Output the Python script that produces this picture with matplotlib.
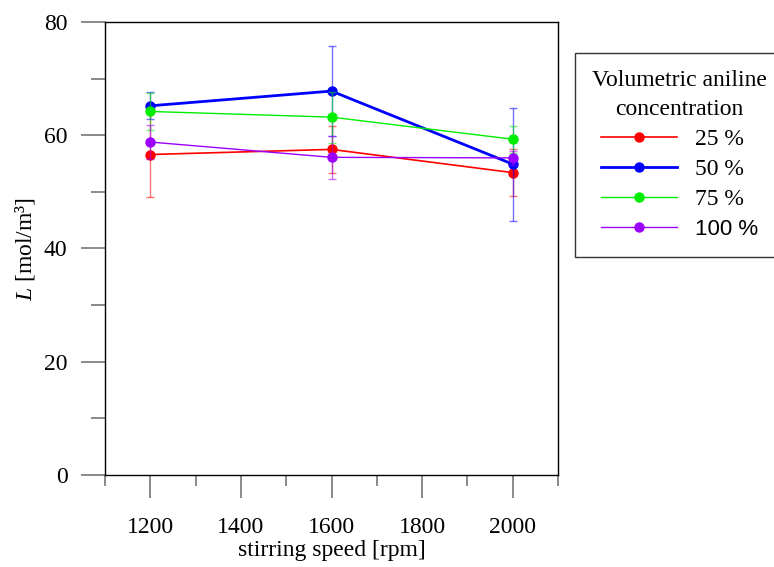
import matplotlib
matplotlib.use("Agg")
import matplotlib.pyplot as plt
from matplotlib.ticker import MultipleLocator

speeds = [1200, 1600, 2000]
labels = ["25 %", "50 %", "75 %", "100 %"]
L_25 = [56.6, 57.5, 53.4]
err_25 = [7.5, 4.1, 4.2]
L_50 = [65.2, 67.8, 54.9]
err_50 = [2.4, 8.0, 10.0]
L_75 = [64.2, 63.2, 59.3]
err_75 = [3.3, 4.5, 2.4]
L_100 = [58.8, 56.1, 56.0]
err_100 = [3.0, 3.8, 1.2]

colors = ["#ff0000", "#0000ff", "#00ee00", "#9b00ff"]
widths = [1.2, 2.0, 1.0, 1.0]

plt.rcParams['font.family'] = ['Liberation Serif', 'DejaVu Serif']
plt.rcParams['mathtext.fontset'] = 'custom'
plt.rcParams['mathtext.it'] = 'Liberation Serif:italic'
plt.rcParams['mathtext.rm'] = 'Liberation Serif'

FS = 17

fig = plt.figure(figsize=(7.74, 5.67), dpi=100)
ax = fig.add_axes([105/774, 1-475/567, (558-105)/774, (475-22)/567])

series = [(L_25, err_25), (L_50, err_50), (L_75, err_75), (L_100, err_100)]
handles = []
for (vals, errs), c, lw, lab in zip(series, colors, widths, labels):
    ax.errorbar(speeds, vals, yerr=errs, fmt='none', ecolor=c, alpha=0.55,
                elinewidth=1.0, capsize=3, capthick=1.0)
    h, = ax.plot(speeds, vals, color=c, lw=lw, marker='o', markersize=6.5,
                 label=lab)
    handles.append(h)

ax.set_xlim(1100, 2100)
ax.set_ylim(0, 80)
ax.xaxis.set_minor_locator(MultipleLocator(100))
ax.yaxis.set_major_locator(MultipleLocator(20))
ax.yaxis.set_minor_locator(MultipleLocator(10))
ax.set_xticks([1200, 1400, 1600, 1800, 2000])
ax.tick_params(axis='x', which='major', direction='out', length=16.5,
               width=1.2, color='#777777', labelsize=FS, pad=14)
ax.tick_params(axis='x', which='minor', direction='out', length=8,
               width=1.2, color='#777777')
ax.tick_params(axis='y', which='major', direction='out', length=17,
               width=1.2, color='#777777', labelsize=FS, pad=10)
ax.tick_params(axis='y', which='minor', direction='out', length=10,
               width=1.2, color='#777777')
for s in ax.spines.values():
    s.set_linewidth(1.0)

ax.set_xlabel("stirring speed [rpm]", fontsize=FS, labelpad=1)
ax.set_ylabel(r"$L$ [mol/m³]", fontsize=FS, labelpad=5)

leg = fig.legend(handles, labels, loc='upper left',
                 bbox_to_anchor=(575/774, 1-53/567),
                 title="Volumetric aniline\nconcentration",
                 fontsize=FS, title_fontsize=FS, frameon=True, fancybox=False,
                 edgecolor='black', handlelength=3.2, handletextpad=0.75,
                 borderpad=0.72, labelspacing=0.36, borderaxespad=0)
leg.get_frame().set_linewidth(1.0)
leg.get_title().set_multialignment('center')
leg.get_title().set_linespacing(1.5)
t100 = leg.get_texts()[3]
t100.set_fontfamily(['Liberation Sans', 'DejaVu Sans'])
t100.set_fontsize(16)

fig.savefig("out.png", dpi=100)
